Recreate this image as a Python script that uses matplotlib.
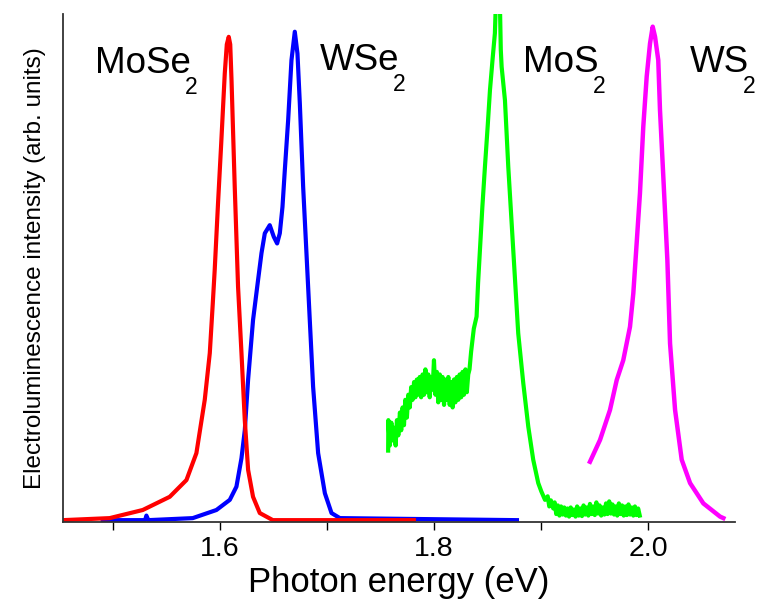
import numpy as np
import matplotlib
matplotlib.use('Agg')
import matplotlib.pyplot as plt
from matplotlib.ticker import MultipleLocator, FormatStrFormatter

plt.rcParams['font.family'] = ['Liberation Sans', 'DejaVu Sans']

# MoSe2 (red)
mose2_e = [1.4533, 1.4969, 1.5278, 1.5530, 1.5686, 1.5779, 1.5857, 1.5904, 1.5932, 1.5950,
           1.5981, 1.6011, 1.6044, 1.6063, 1.6081, 1.6095, 1.6107, 1.6137, 1.6168, 1.6200,
           1.6231, 1.6262, 1.6308, 1.6371, 1.6493, 1.7810]
mose2_i = [0.003, 0.007, 0.023, 0.049, 0.082, 0.135, 0.240, 0.332, 0.430, 0.496,
           0.627, 0.746, 0.883, 0.940, 0.955, 0.940, 0.870, 0.660, 0.463, 0.332,
           0.200, 0.102, 0.049, 0.017, 0.003, 0.003]

# WSe2 (blue)
wse2_e = [1.4904, 1.5300, 1.5312, 1.5330, 1.5745, 1.5966, 1.6091, 1.6153, 1.6200, 1.6231,
          1.6262, 1.6308, 1.6355, 1.6387, 1.6418, 1.6464, 1.6502, 1.6533, 1.6558, 1.6583,
          1.6605, 1.6636, 1.6667, 1.6698, 1.6723, 1.6745, 1.6776, 1.6807, 1.6838, 1.6869,
          1.6916, 1.6979, 1.7041, 1.7119, 1.8773]
wse2_i = [0.003, 0.003, 0.012, 0.003, 0.007, 0.023, 0.043, 0.069, 0.125, 0.180,
          0.280, 0.397, 0.476, 0.529, 0.568, 0.584, 0.561, 0.548, 0.568, 0.620,
          0.693, 0.791, 0.909, 0.965, 0.922, 0.824, 0.660, 0.529, 0.397, 0.266,
          0.135, 0.056, 0.017, 0.007, 0.003]

# MoS2 (green)
mos2_e = [1.7570, 1.7572, 1.7585, 1.7600, 1.7612, 1.7625, 1.7640, 1.7652, 1.7665, 1.7680,
          1.7692, 1.7705, 1.7718, 1.7730, 1.7745, 1.7758, 1.7772, 1.7785, 1.7798, 1.7812,
          1.7825, 1.7838, 1.7852, 1.7865, 1.7878, 1.7892, 1.7905, 1.7918, 1.7932, 1.7945,
          1.7958, 1.7972, 1.7985, 1.7998, 1.8012, 1.8025, 1.8038, 1.8052, 1.8065, 1.8078,
          1.8092, 1.8105, 1.8118, 1.8132, 1.8145, 1.8158, 1.8172, 1.8185, 1.8198, 1.8212,
          1.8225, 1.8238, 1.8252, 1.8265, 1.8278, 1.8292, 1.8305, 1.8318, 1.8330, 1.8345,
          1.8370, 1.8396, 1.8410, 1.8427, 1.8450, 1.8474, 1.8500, 1.8521, 1.8545, 1.8567,
          1.8580, 1.8600, 1.8614, 1.8622, 1.8630, 1.8661, 1.8692, 1.8738, 1.8785, 1.8832,
          1.8879, 1.8925, 1.8972, 1.9000, 1.9035, 1.9060, 1.9075, 1.9090, 1.9112, 1.9125,
          1.9140, 1.9155, 1.9170, 1.9185, 1.9200, 1.9215, 1.9230, 1.9245, 1.9260, 1.9275,
          1.9290, 1.9305, 1.9320, 1.9335, 1.9350, 1.9365, 1.9380, 1.9395, 1.9410, 1.9425,
          1.9440, 1.9455, 1.9470, 1.9485, 1.9500, 1.9515, 1.9530, 1.9545, 1.9560, 1.9575,
          1.9590, 1.9605, 1.9620, 1.9635, 1.9650, 1.9665, 1.9680, 1.9695, 1.9710, 1.9725,
          1.9740, 1.9755, 1.9770, 1.9785, 1.9800, 1.9815, 1.9830, 1.9845, 1.9860, 1.9875,
          1.9890, 1.9905, 1.9920]
mos2_i = [0.140, 0.200, 0.150, 0.195, 0.160, 0.185, 0.150, 0.200, 0.170, 0.215,
          0.180, 0.225, 0.190, 0.240, 0.205, 0.250, 0.225, 0.265, 0.240, 0.275,
          0.245, 0.280, 0.250, 0.285, 0.245, 0.290, 0.250, 0.300, 0.255, 0.290,
          0.245, 0.285, 0.260, 0.318, 0.250, 0.295, 0.235, 0.290, 0.240, 0.285,
          0.230, 0.280, 0.240, 0.285, 0.230, 0.275, 0.225, 0.280, 0.235, 0.285,
          0.240, 0.290, 0.245, 0.295, 0.250, 0.300, 0.255, 0.290, 0.300, 0.335,
          0.380, 0.404, 0.470, 0.535, 0.620, 0.699, 0.780, 0.850, 0.910, 0.962,
          1.050, 1.050, 1.020, 0.930, 0.896, 0.830, 0.699, 0.535, 0.371, 0.273,
          0.187, 0.122, 0.076, 0.060, 0.043, 0.050, 0.030, 0.042, 0.026, 0.038,
          0.015, 0.032, 0.012, 0.030, 0.014, 0.028, 0.012, 0.026, 0.010, 0.028,
          0.013, 0.024, 0.010, 0.030, 0.012, 0.026, 0.011, 0.032, 0.014, 0.028,
          0.012, 0.035, 0.015, 0.030, 0.013, 0.038, 0.016, 0.032, 0.012, 0.028,
          0.014, 0.036, 0.015, 0.040, 0.016, 0.034, 0.014, 0.030, 0.012, 0.036,
          0.015, 0.032, 0.012, 0.030, 0.013, 0.034, 0.014, 0.028, 0.012, 0.030,
          0.013, 0.026, 0.012]

# WS2 (magenta)
ws2_e = [1.9455, 1.9549, 1.9642, 1.9705, 1.9766, 1.9829, 1.9860, 1.9891, 1.9922, 1.9953,
         1.9985, 2.0016, 2.0041, 2.0063, 2.0093, 2.0109, 2.0140, 2.0178, 2.0203, 2.0250,
         2.0312, 2.0390, 2.0514, 2.0670, 2.0701]
ws2_i = [0.118, 0.161, 0.220, 0.279, 0.318, 0.384, 0.450, 0.548, 0.647, 0.778,
         0.877, 0.942, 0.975, 0.955, 0.909, 0.811, 0.680, 0.515, 0.351, 0.220,
         0.122, 0.076, 0.036, 0.010, 0.007]

names = ['MoSe', 'WSe', 'MoS', 'WS']
name_x = [1.4829, 1.6932, 1.8829, 2.0389]
name_y = [0.884, 0.890, 0.886, 0.886]

fig = plt.figure(figsize=(7.73, 6.10), dpi=100)
ax = fig.add_axes([0.0815, 0.1448, 0.8698, 0.8323])

ax.plot(wse2_e, wse2_i, color='#0000ff', lw=3)
ax.plot(mose2_e, mose2_i, color='#ff0000', lw=3)
ax.plot(mos2_e, mos2_i, color='#00ff00', lw=3)
ax.plot(ws2_e, ws2_i, color='#ff00ff', lw=3.2)

# labels with a lowered subscript 2
for n, x, y in zip(names, name_x, name_y):
    t = ax.text(x, y, n, fontsize=26.5, ha='left', va='baseline')
    ax.annotate('2', xy=(1, 0), xycoords=t, xytext=(-6, -13),
                textcoords='offset pixels', fontsize=16.5, ha='left', va='baseline')

ax.set_xlim(1.4533, 2.0813)
ax.set_ylim(0, 1)
ax.spines['top'].set_visible(False)
ax.spines['right'].set_visible(False)
ax.spines['left'].set_color('#333333')
ax.spines['bottom'].set_color('#333333')
ax.spines['left'].set_linewidth(1.3)
ax.spines['bottom'].set_linewidth(1.3)
ax.xaxis.set_major_locator(MultipleLocator(0.2))
ax.xaxis.set_minor_locator(MultipleLocator(0.1))
ax.tick_params(axis='x', which='both', direction='out', length=6, width=1, labelsize=20.5, pad=4)
ax.set_yticks([])
ax.xaxis.set_major_formatter(FormatStrFormatter('%.1f'))
ax.set_xlabel('Photon energy (eV)', fontsize=25, labelpad=3)
ax.set_ylabel('Electroluminescence intensity (arb. units)', fontsize=17.5, labelpad=12)

fig.savefig('out.png', dpi=100)
